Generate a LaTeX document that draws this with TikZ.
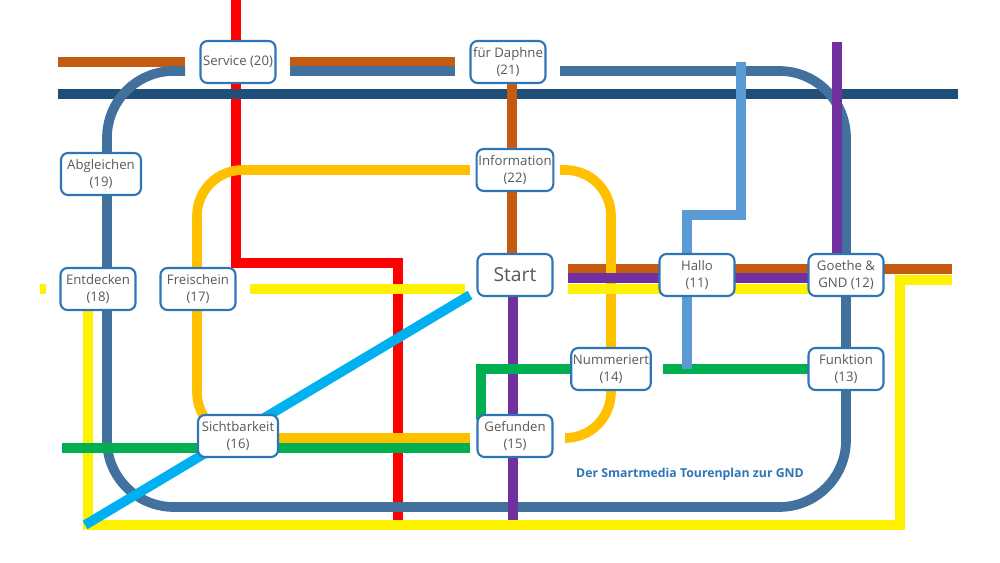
\documentclass[tikz,border=0pt]{standalone}
\usepackage{fontspec}
\setmainfont{Open Sans}
\definecolor{navy}{HTML}{1F4E79}
\definecolor{brownline}{HTML}{C55A11}
\definecolor{steel}{HTML}{41719C}
\definecolor{gold}{HTML}{FFC000}
\definecolor{lila}{HTML}{7030A0}
\definecolor{gruen}{HTML}{00B050}
\definecolor{hellblau}{HTML}{5B9BD5}
\definecolor{cyanline}{HTML}{00B0F0}
\definecolor{rahmen}{HTML}{2E75B6}
\definecolor{schrift}{HTML}{595959}
\tikzset{
  stop/.style={draw=rahmen,line width=1.2pt,fill=white,rounded corners=4pt,
    minimum width=1.5cm,minimum height=0.84cm,align=center,inner sep=1pt,
    text=schrift,font=\fontsize{7.5}{9.5}\selectfont},
  line/.style={line width=5.5pt}
}
\begin{document}
\begin{tikzpicture}[x={(0.02cm,0)},y={(0,-0.02cm)}]
\useasboundingbox (0,0) rectangle (1000,563);
% lines
\draw[line,red] (236,0)--(236,263)--(398,263)--(398,525);
\draw[line,navy] (58,94)--(958,94);
\draw[line,brownline] (58,62)--(185,62) (290,62)--(455,62);
\draw[line,brownline] (512,84)--(512,255);
\draw[line,brownline] (568,269)--(952,269);
\draw[line,steel] (290,71)--(455,71);
\draw[line,steel,rounded corners=38pt] (185,71)--(107,71)--(107,507)--(846,507)--(846,71)--(560,71);
\draw[line,gold,rounded corners=26pt] (470,170)--(197,170)--(197,438)--(470,438);
\draw[line,gold,rounded corners=26pt] (560,170)--(611,170)--(611,438)--(565,438);
\draw[line,lila] (837,42)--(837,255);
\draw[line,lila] (568,278)--(808,278);
\draw[line,lila] (513,290)--(513,525);
\draw[line,yellow] (40,289)--(46,289) (250,289)--(465,289) (568,289)--(846,289);
\draw[line,yellow] (88,310)--(88,525)--(900,525)--(900,280)--(952,280);
\draw[line,gruen] (62,448)--(470,448);
\draw[line,gruen] (481,420)--(481,369)--(575,369) (663,369)--(808,369);
\draw[line,hellblau] (741,62)--(741,215)--(687,215)--(687,369);
\draw[line,cyanline] (85,525)--(470,295);
% stations
\node[stop] (service) at (238,62) {Service (20)};
\node[stop] (daphne) at (508,62) {für Daphne\\(21)};
\node[stop,minimum width=1.6cm] (abgleichen) at (101,174) {Abgleichen\\(19)};
\node[stop] (information) at (515,170) {Information\\(22)};
\node[stop] (entdecken) at (98,289) {Entdecken\\(18)};
\node[stop] (freischein) at (198,289) {Freischein\\(17)};
\node[stop,font=\fontsize{11}{13}\selectfont] (start) at (515,275) {Start};
\node[stop] (hallo) at (697,275) {Hallo\\(11)};
\node[stop] (goethe) at (846,275) {Goethe \&\\GND (12)};
\node[stop] (nummeriert) at (611,369) {Nummeriert\\(14)};
\node[stop] (funktion) at (846,369) {Funktion\\(13)};
\node[stop,minimum width=1.6cm] (sichtbarkeit) at (238,436) {Sichtbarkeit\\(16)};
\node[stop] (gefunden) at (515,436) {Gefunden\\(15)};
\node[text=rahmen,font=\fontsize{7}{9}\selectfont\bfseries] (titel) at (690,474) {Der Smartmedia Tourenplan zur GND};
\end{tikzpicture}
\end{document}
